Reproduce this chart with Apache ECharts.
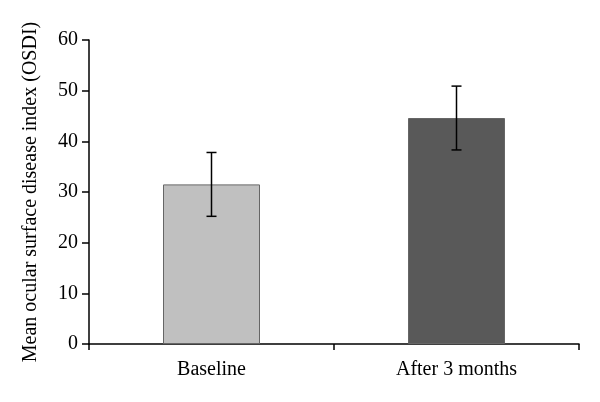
<!DOCTYPE html>
<html><head><meta charset="utf-8">
<script src="https://cdn.jsdelivr.net/npm/echarts@6/dist/echarts.min.js"></script>
<style>html,body{margin:0;padding:0;background:#fff}#c{width:600px;height:402px}</style>
</head><body><div id="c"></div>
<script>
const categories = ['Baseline', 'After 3 months'];
const means = [31.5, 44.6];
const errors = [6.3, 6.3];
const barColors = ['#c0c0c0', '#595959'];
const yTicks = [0, 10, 20, 30, 40, 50, 60];

const font = 'Liberation Serif';
const chart = echarts.init(document.getElementById('c'));
chart.setOption({
  animation: false,
  grid: {left: 89, right: 21, top: 40, bottom: 58},
  xAxis: {
    type: 'category', data: categories, boundaryGap: true,
    axisLine: {lineStyle: {color: '#000', width: 1.5}},
    axisTick: {show: true, alignWithLabel: false, length: 6, lineStyle: {color: '#000', width: 1.5}},
    axisLabel: {color: '#000', fontFamily: font, fontSize: 20, margin: 16}
  },
  yAxis: {
    type: 'value', min: yTicks[0], max: yTicks[yTicks.length - 1], interval: 10,
    name: 'Mean ocular surface disease index (OSDI)', nameLocation: 'middle', nameGap: 48,
    nameTextStyle: {color: '#000', fontFamily: font, fontSize: 20},
    axisLine: {show: true, lineStyle: {color: '#000', width: 1.5}},
    axisTick: {show: true, length: 7, lineStyle: {color: '#000', width: 1.5}},
    axisLabel: {color: '#000', fontFamily: font, fontSize: 20, margin: 11},
    splitLine: {show: false}
  },
  series: [{
    type: 'bar', barWidth: 97,
    data: means.map((v, i) => ({value: v, itemStyle: {color: barColors[i]}})),
    itemStyle: {borderColor: '#666', borderWidth: 1}
  }, {
    type: 'custom',
    data: means.map((v, i) => [i, v - errors[i], v + errors[i]]),
    renderItem: function (params, api) {
      const lo = api.coord([api.value(0), api.value(1)]);
      const hi = api.coord([api.value(0), api.value(2)]);
      const w = 5;
      const st = {stroke: '#000', lineWidth: 1.5};
      return {type: 'group', children: [
        {type: 'line', shape: {x1: hi[0], y1: hi[1], x2: lo[0], y2: lo[1]}, style: st},
        {type: 'line', shape: {x1: hi[0] - w, y1: hi[1], x2: hi[0] + w, y2: hi[1]}, style: st},
        {type: 'line', shape: {x1: lo[0] - w, y1: lo[1], x2: lo[0] + w, y2: lo[1]}, style: st}
      ]};
    },
    z: 10
  }]
});
</script></body></html>
